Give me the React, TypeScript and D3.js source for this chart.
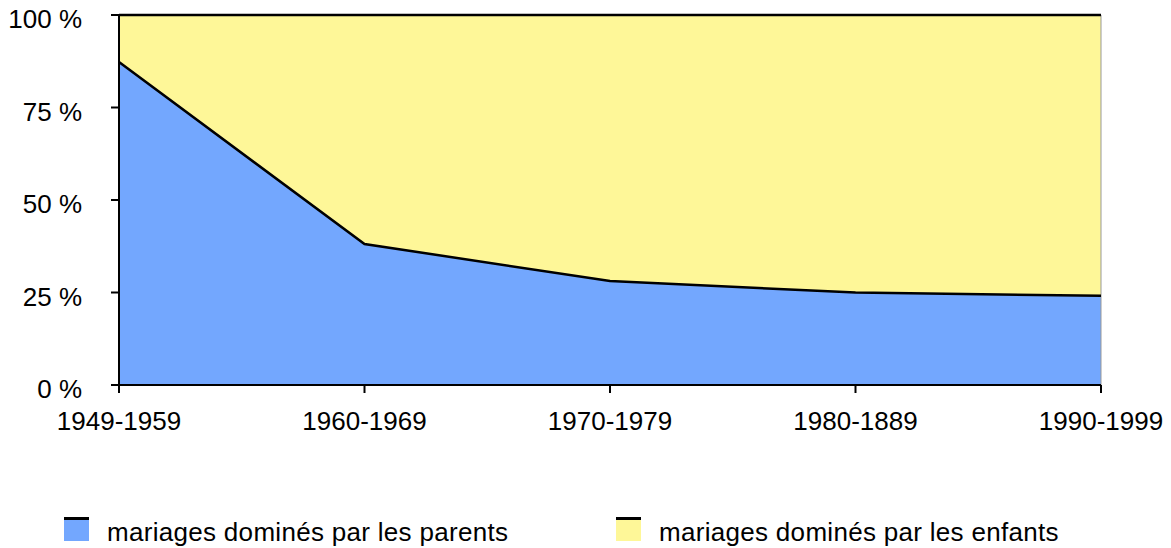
import React from "react";
import * as d3 from "d3";

const categories = ["1949-1959", "1960-1969", "1970-1979", "1980-1889", "1990-1999"];
const parents = [87.3, 38.1, 28.1, 25.0, 24.1];
const enfants = [12.7, 61.9, 71.9, 75.0, 75.9];
const yTicks = [0, 25, 50, 75, 100];
const seriesNames = ["mariages dominés par les parents", "mariages dominés par les enfants"];
const colors = ["#73A7FE", "#FEF798"];

export default function App() {
  const W = 1171, H = 548;
  const x = d3.scalePoint<string>().domain(categories).range([119, 1101]);
  const y = d3.scaleLinear().domain([0, 100]).range([385, 15]);
  const stacked = categories.map((c, i) => ({ c, p: parents[i], e: parents[i] + enfants[i] }));
  const areaP = d3.area<any>().x(d => x(d.c)!).y0(y(0)).y1(d => y(d.p));
  const areaE = d3.area<any>().x(d => x(d.c)!).y0(d => y(d.p)).y1(d => y(d.e));
  const lineP = d3.line<any>().x(d => x(d.c)!).y(d => y(d.p));
  const lineE = d3.line<any>().x(d => x(d.c)!).y(d => y(d.e));
  const font = "Helvetica, 'Liberation Sans', Arial, sans-serif";
  const fs = 26;
  return (
    <svg width={W} height={H} style={{ position: "absolute", left: 0, top: 0 }} fontFamily={font}>
      <path d={areaE(stacked)!} fill={colors[1]} />
      <path d={areaP(stacked)!} fill={colors[0]} />
      <line x1={1101} x2={1101} y1={y(100)} y2={y(0)} stroke="#999" strokeWidth={1} />
      <path d={lineE(stacked)!} fill="none" stroke="#000" strokeWidth={2.5} />
      <path d={lineP(stacked)!} fill="none" stroke="#000" strokeWidth={2.5} />
      {/* axes */}
      <line x1={119} x2={119} y1={y(100) - 1} y2={y(0) + 1} stroke="#000" strokeWidth={2} />
      <line x1={118} x2={1101} y1={y(0)} y2={y(0)} stroke="#000" strokeWidth={2} />
      {yTicks.map(t => (
        <g key={t}>
          <line x1={111} x2={119} y1={y(t)} y2={y(t)} stroke="#000" strokeWidth={2} />
          <text x={82} y={y(t) + 13} textAnchor="end" fontSize={fs}>{t} %</text>
        </g>
      ))}
      {categories.map(c => (
        <g key={c}>
          <line x1={x(c)!} x2={x(c)!} y1={y(0)} y2={y(0) + 8} stroke="#000" strokeWidth={2} />
          <text x={x(c)!} y={y(0) + 45} textAnchor="middle" fontSize={fs}>{c}</text>
        </g>
      ))}
      {/* legend */}
      {seriesNames.map((n, i) => {
        const lx = i === 0 ? 64 : 616;
        return (
          <g key={n}>
            <rect x={lx} y={517} width={25} height={24} fill={colors[i]} />
            <rect x={lx} y={517} width={25} height={3} fill="#000" />
            <text x={lx + 43} y={541} fontSize={fs} letterSpacing={0.3}>{n}</text>
          </g>
        );
      })}
    </svg>
  );
}
